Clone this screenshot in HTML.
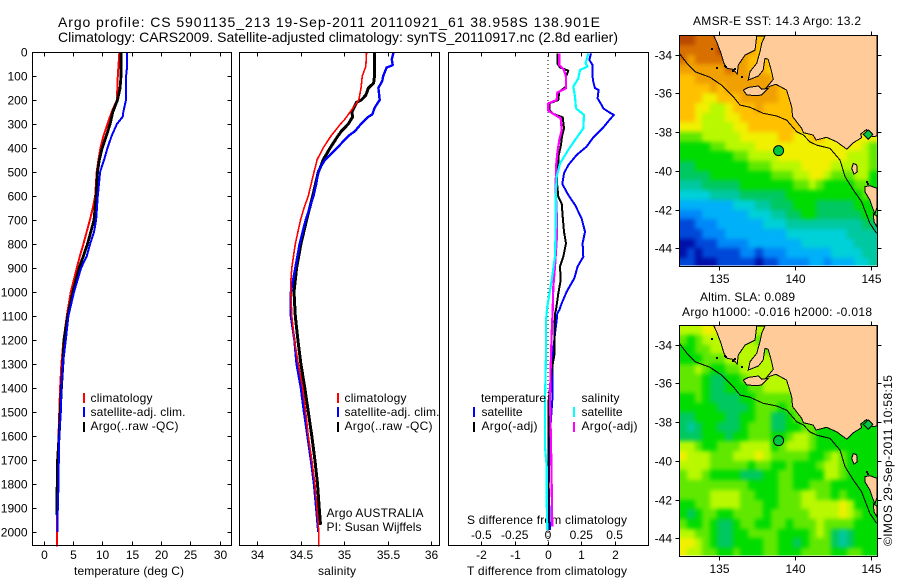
<!DOCTYPE html>
<html lang="en">
<head>
<meta charset="utf-8">
<title>Argo profile</title>
<style>
html,body{margin:0;padding:0;background:#fff;}
svg{display:block;}
text{font-family:"Liberation Sans",sans-serif;font-size:12px;fill:#000;}
</style>
</head>
<body>
<svg id="chart" width="900" height="580" viewBox="0 0 900 580" xmlns="http://www.w3.org/2000/svg">
<text x="58" y="27" style="font-size:14px" textLength="542" lengthAdjust="spacing">Argo profile: CS 5901135_213 19-Sep-2011 20110921_61 38.958S 138.901E</text>
<text x="58" y="42" style="font-size:14px" textLength="560" lengthAdjust="spacing">Climatology: CARS2009. Satellite-adjusted climatology: synTS_20110917.nc (2.8d earlier)</text>

<text x="74" y="575" textLength="110" lengthAdjust="spacing">temperature (deg C)</text>
<text x="318" y="575" textLength="38" lengthAdjust="spacing">salinity</text>
<text x="467" y="524" textLength="160" lengthAdjust="spacing">S difference from climatology</text>
<text x="467" y="575" textLength="160" lengthAdjust="spacing">T difference from climatology</text>

<text x="693" y="25" textLength="168" lengthAdjust="spacing">AMSR-E SST: 14.3 Argo: 13.2</text>
<text x="700" y="301" textLength="95" lengthAdjust="spacing">Altim. SLA: 0.089</text>
<text x="682" y="316" textLength="190" lengthAdjust="spacing">Argo h1000: -0.016 h2000: -0.018</text>
<text transform="translate(892,546) rotate(-90)" textLength="171" lengthAdjust="spacing">©IMOS 29-Sep-2011 10:58:15</text>
<g id="plots"></g>
<g id="overlay">
<text x="90.5" y="402" textLength="62" lengthAdjust="spacing">climatology</text>
<text x="90.5" y="416" textLength="95" lengthAdjust="spacing">satellite-adj. clim.</text>
<text x="90.5" y="430" textLength="88" lengthAdjust="spacing">Argo(..raw -QC)</text>
<rect x="83" y="393" width="2" height="10" fill="#ff0000"/>
<rect x="83" y="407" width="2" height="10" fill="#0000ff"/>
<rect x="83" y="422" width="2" height="10" fill="#000"/>
<text x="344.5" y="402" textLength="62" lengthAdjust="spacing">climatology</text>
<text x="344.5" y="416" textLength="95" lengthAdjust="spacing">satellite-adj. clim.</text>
<text x="344.5" y="430" textLength="88" lengthAdjust="spacing">Argo(..raw -QC)</text>
<rect x="337" y="393" width="2" height="10" fill="#ff0000"/>
<rect x="337" y="407" width="2" height="10" fill="#0000ff"/>
<rect x="337" y="422" width="2" height="10" fill="#000"/>
<text x="326.5" y="517" textLength="97" lengthAdjust="spacing">Argo AUSTRALIA</text>
<text x="326.5" y="531" textLength="95" lengthAdjust="spacing">PI: Susan Wijffels</text>
<text x="481" y="402" textLength="65" lengthAdjust="spacing">temperature</text>
<text x="481.5" y="416" textLength="41" lengthAdjust="spacing">satellite</text>
<text x="481.5" y="430" textLength="56" lengthAdjust="spacing">Argo(-adj)</text>
<text x="581.5" y="402" textLength="38" lengthAdjust="spacing">salinity</text>
<text x="581.5" y="416" textLength="41" lengthAdjust="spacing">satellite</text>
<text x="581.5" y="430" textLength="56" lengthAdjust="spacing">Argo(-adj)</text>
<rect x="473" y="407" width="2" height="10" fill="#0000ff"/>
<rect x="473" y="422" width="2" height="10" fill="#000"/>
<rect x="573" y="407" width="2" height="10" fill="#00ffff"/>
<rect x="573" y="422" width="2" height="10" fill="#ff00ff"/>
</g>
</svg>
<script>
// ---------- tick labels ----------
const depthTicks = [0,100,200,300,400,500,600,700,800,900,1000,1100,1200,1300,1400,1500,1600,1700,1800,1900,2000];
const tempTicks = [0,5,10,15,20,25,30];
const salTicks = [34,34.5,35,35.5,36];
const tDiffTicks = [-2,-1,0,1,2];
const sDiffTicks = [-0.5,-0.25,0,0.25,0.5];
const mapLonTicks = [135,140,145];
const mapLatTicks = [-34,-36,-38,-40,-42,-44];

// ---------- temperature profiles ----------
const tempClimDepth = [0,100,200,250,300,350,400,450,500,600,650,700,800,850,900,1000,1100,1200,1300,1400,1500,1600,1700,1800,1900,2000,2060];
const tempClimValue = [12.93,12.65,12.5,11.6,10.9,10.2,9.7,9.35,9.07,8.8,8.4,7.9,6.8,6.2,5.67,4.65,3.97,3.4,3.05,2.83,2.7,2.55,2.4,2.37,2.3,2.27,2.27];
const tempSatDepth = [0,60,100,200,250,270,300,350,400,450,500,600,700,750,800,850,900,1000,1100,1200,1300,1400,1500,1600,1700,1800,1900,2000];
const tempSatValue = [14.24,14.24,14.07,14.05,13.6,13.5,12.5,11.6,10.9,10.3,9.64,9.25,8.96,8.6,7.94,7.37,6.4,5.2,4.25,3.8,3.3,3.05,2.95,2.7,2.6,2.55,2.43,2.37];
const tempArgoDepth = [0,100,150,200,250,300,350,400,450,500,600,700,800,850,900,1000,1100,1200,1300,1400,1500,1600,1700,1930];
const tempArgoValue = [13.2,13.2,13.05,12.6,11.8,11.35,10.7,10.0,9.5,9.2,8.96,8.6,7.5,6.8,6.07,5.0,4.13,3.5,3.3,3.05,2.85,2.65,2.4,2.25];

// ---------- salinity profiles ----------
const salClimDepth = [0,60,100,150,200,250,280,300,350,400,450,480,500,600,650,700,750,800,850,900,950,1000,1100,1200,1300,1400,1500,1600,1700,1800,1900,2000,2060];
const salClimValue = [35.26,35.25,35.21,35.195,35.17,35.07,35.01,34.96,34.85,34.76,34.69,34.67,34.655,34.59,34.54,34.5,34.47,34.44,34.42,34.4,34.39,34.39,34.4,34.43,34.475,34.525,34.56,34.59,34.63,34.665,34.69,34.71,34.71];
const salSatDepth = [0,30,55,65,100,120,150,200,230,260,270,300,330,350,400,450,480,500,550,600,700,800,900,1000,1100,1200,1300,1400,1500,1600,1700,1800,1900,2000];
const salSatValue = [35.57,35.55,35.56,35.49,35.45,35.44,35.395,35.41,35.355,35.325,35.28,35.195,35.125,35.05,34.92,34.78,34.73,34.705,34.68,34.65,34.56,34.49,34.44,34.39,34.39,34.43,34.455,34.505,34.54,34.58,34.62,34.655,34.68,34.705];
const salArgoDepth = [0,100,130,150,180,200,210,250,270,300,330,350,400,450,480,500,600,700,800,900,1000,1100,1200,1300,1400,1500,1600,1700,1800,1900,1970];
const salArgoValue = [35.35,35.35,35.34,35.28,35.25,35.2,35.145,35.09,35.1,35.05,34.97,34.93,34.84,34.76,34.73,34.705,34.64,34.57,34.505,34.455,34.425,34.44,34.47,34.505,34.55,34.59,34.63,34.665,34.695,34.715,34.73];

// ---------- difference profiles ----------
const tDiffSatDepth = [6,33,54,82,103,124,151,158,193,221,235,253,262,281,314,356,394,429,471,506,550,596,637,693,749,797,853,894,943,999,1047,1075,1089,1117,1172,1242,1311,1450,1631,1811,1992];
const tDiffSatValue = [1.29,1.24,1.34,1.34,1.34,1.36,1.41,1.52,1.49,1.61,1.66,1.86,1.98,1.86,1.66,1.36,1.16,.86,.61,.48,.43,.61,.81,1.01,1.11,1.04,1.06,.89,.79,.56,.41,.34,.28,.26,.21,.16,.13,.13,.04,.02,.06];
const tDiffArgoDepth = [6,47,64,78,103,144,165,200,214,242,258,272,318,353,394,429,464,506,561,603,631,686,749,797,853,894,950,1006,1075,1089,1172,1263,1311,1450,1811,1992];
const tDiffArgoValue = [.28,.28,.36,.61,.54,.54,.34,.31,.04,.04,.16,.44,.48,.42,.38,.32,.31,.26,.28,.31,.41,.44,.48,.54,.46,.36,.38,.31,.24,.21,.19,.19,.13,.02,.02,.02];
const sDiffSatDepth = [6,47,61,75,110,144,186,235,262,318,367,408,464,519,603,728,853,950,1061,1117,1256,1450,1644,1728,1867,1992];
const sDiffSatValue = [.3025,.2825,.2975,.24,.2275,.19,.2025,.21,.27,.265,.2025,.1525,.09,.065,.0575,.0575,.0525,.0275,-.005,-.015,-.015,-.0225,-.0225,-.01,-.01,-.005];
const sDiffArgoDepth = [6,54,75,103,151,169,200,214,244,262,276,325,367,422,478,575,672,783,894,978,1075,1172,1311,1450,1631,1811,1978];
const sDiffArgoValue = [.085,.085,.12,.135,.135,.07,.065,.0025,.0025,.0525,.095,.1025,.085,.07,.06,.0575,.065,.065,.0525,.04,.035,.0275,.02,.015,.0225,.0275,.0325];

// ---------- map fields: colour level per half-degree cell, north to south ----------
const sstRows = [
[14,14,13,13,13,13,13,12,12,12,11,11,11,11,11,11,11,11,11,11,11,11,11,11,11,11],
[13,13,13,13,13,14,13,12,12,12,11,11,11,11,11,11,11,11,11,11,11,11,11,11,11,11],
[13,12,13,13,13,13,13,12,12,11,11,11,11,11,11,11,11,11,11,11,11,11,11,11,11,11],
[12,12,12,12,12,12,13,12,12,11,12,11,10,11,11,11,11,11,11,11,11,11,11,11,11,11],
[11,11,12,12,12,12,12,12,12,12,12,12,11,11,11,11,11,11,11,11,11,11,11,11,11,11],
[11,11,11,11,12,11,12,12,12,12,12,12,12,11,11,11,11,11,11,11,11,11,11,11,11,11],
[11,11,11,10,10,11,11,11,12,12,12,12,12,11,11,11,11,11,11,11,11,11,11,11,11,11],
[11,11,10,10,9,9,10,11,11,11,12,11,11,11,11,11,11,11,11,11,11,11,11,11,11,11],
[11,11,10,9,9,9,10,10,11,11,11,11,11,11,11,11,11,11,11,11,11,11,11,11,11,11],
[10,10,10,9,9,9,9,10,10,11,11,11,11,11,11,11,11,11,11,11,11,11,11,11,11,11],
[8,8,8,9,9,9,9,9,10,10,10,10,10,11,11,10,10,11,11,10,10,10,10,10,10,10],
[7,7,7,7,8,8,9,9,9,9,10,10,10,10,10,10,10,10,10,10,10,10,10,10,9,8],
[7,7,7,7,7,7,7,8,8,9,9,9,9,10,10,10,10,10,10,10,10,10,9,9,9,8],
[6,6,7,7,7,7,7,7,7,8,8,8,9,9,9,9,10,10,10,10,9,9,9,9,9,8],
[6,6,6,6,7,7,7,7,7,7,7,7,8,8,8,9,9,10,10,9,8,8,8,9,9,7],
[5,5,5,6,6,6,6,6,7,7,7,7,7,7,7,8,8,9,8,7,7,7,7,8,8,7],
[4,4,4,4,5,5,5,5,6,6,6,6,6,6,7,7,7,7,7,7,7,7,7,7,8,7],
[3,3,3,3,3,3,3,4,4,4,5,5,6,6,6,7,7,7,6,6,6,6,6,7,7,7],
[2,2,2,3,3,3,3,3,3,4,4,4,5,5,6,6,7,7,6,6,6,6,6,6,7,7],
[1,1,2,2,2,3,3,3,3,3,3,4,4,4,5,5,5,5,5,5,5,5,5,5,6,6],
[1,1,1,2,2,2,3,3,3,3,3,3,3,3,4,4,4,4,4,4,4,4,5,5,5,5],
[0,0,1,1,1,2,2,2,2,3,3,3,3,3,3,3,4,4,4,4,4,4,4,5,5,5],
[0,1,0,1,1,1,1,1,2,2,1,2,2,2,3,3,3,3,3,3,4,4,4,4,5,5],
[1,1,0,0,0,1,1,1,1,1,0,1,1,2,2,2,2,3,3,2,3,3,3,4,4,5]
];
const slaRows = [
[9,9,9,10,10,9,9,9,9,9,9,9,9,9,9,9,9,9,9,9,9,9,9,9,9,9],
[8,7,8,9,9,9,9,9,9,9,8,8,8,8,8,8,8,8,8,8,8,8,8,8,8,8],
[7,7,8,8,9,9,9,9,9,9,9,8,8,8,8,8,8,8,8,8,8,8,8,8,8,8],
[7,7,7,8,8,8,9,9,9,9,9,9,9,8,8,8,8,8,8,8,8,8,8,8,8,8],
[8,8,9,8,7,7,8,8,9,9,9,9,9,8,8,8,8,8,8,8,8,8,8,8,8,8],
[8,8,8,7,6,6,7,7,8,9,9,9,9,9,9,9,8,8,8,8,8,8,8,8,8,8],
[8,8,8,7,6,6,7,7,7,8,8,9,9,9,9,9,8,8,8,8,8,8,8,8,8,8],
[7,7,8,7,6,6,6,6,7,7,8,8,8,8,8,8,8,8,8,8,8,8,8,8,8,8],
[7,7,7,7,7,6,6,6,6,7,8,8,8,7,8,8,8,8,8,8,8,8,8,8,8,8],
[6,6,7,7,7,7,6,6,7,7,8,8,6,6,7,8,8,8,7,7,7,7,7,7,7,7],
[6,5,6,7,7,6,6,6,7,8,8,8,6,6,7,7,8,8,7,7,7,7,7,7,7,7],
[6,6,6,7,7,7,6,7,7,8,8,8,7,7,8,9,9,8,7,7,7,7,7,7,7,7],
[9,9,8,7,7,8,8,8,9,9,9,9,7,8,9,9,9,8,7,7,7,7,7,7,7,7],
[10,9,9,9,8,8,8,9,9,9,10,9,8,8,8,8,8,7,7,8,9,8,7,7,7,7],
[9,9,9,9,8,8,8,8,8,7,8,8,7,7,8,7,7,7,8,9,9,8,7,7,7,7],
[8,9,9,8,7,7,7,7,6,6,6,7,7,8,8,7,7,7,7,9,9,8,7,7,7,7],
[8,8,8,8,8,8,8,8,8,7,7,7,7,8,8,7,7,8,8,8,7,7,7,7,7,7],
[8,8,8,8,9,9,9,9,8,8,7,7,7,8,8,8,9,9,8,8,7,8,7,7,7,7],
[7,7,8,8,9,9,9,9,8,8,8,7,7,8,8,8,9,9,9,9,9,10,9,7,7,7],
[7,6,7,8,8,7,7,8,8,8,8,7,8,8,8,8,8,9,9,9,9,10,9,8,7,7],
[8,7,7,8,7,6,6,7,8,8,7,7,8,8,7,8,8,8,9,8,8,8,8,7,7,7],
[9,9,8,8,7,6,6,7,7,8,8,8,8,7,7,7,7,8,9,8,6,5,6,7,7,7],
[10,10,9,8,7,6,6,7,7,7,7,8,8,7,7,6,7,8,8,8,6,5,6,7,7,7],
[10,9,9,8,8,7,7,8,7,7,7,8,8,7,7,7,8,8,8,8,7,7,8,8,7,7]
];
const levelColors = ['#0010a8','#0048d8','#0088f8','#00b0f8','#00d0d8','#00c8a0','#00c860','#00dc00','#60e800','#b8f800','#f0f000','#ffc000','#f0a000','#d87000','#b84800'];
const cellLonStart = 132.37, cellLatStart = -33, cellStep = 0.5;

// ---------- geography in lon/lat ----------
const coastLon = [134.61,134.82,135.11,135.31,135.53,135.92,136.18,136.25,136.69,137.35,137.46,138.00,137.79,137.68,137.46,137.02,136.91,137.57,137.89,138.00,138.22,138.44,138.55,138.11,138.73,139.43,139.76,139.82,140.42,140.53,141.18,141.36,142.06,142.72,143.38,143.82,144.36,144.30,144.69,145.09,145.39,145.39];
const coastLat = [-32.98,-33.33,-33.93,-34.45,-34.71,-34.76,-35.00,-34.53,-34.02,-33.76,-33.04,-33.04,-33.41,-33.84,-34.45,-34.88,-35.31,-35.10,-34.79,-34.19,-34.24,-34.88,-35.27,-35.69,-35.53,-35.83,-36.69,-37.20,-37.81,-38.03,-38.15,-38.41,-38.27,-38.50,-38.88,-38.55,-38.29,-38.10,-37.86,-38.24,-38.20,-32.98];
const kangarooLon = [136.58,136.91,137.57,137.79,138.22,137.79,137.46,136.80];
const kangarooLat = [-35.83,-35.69,-35.62,-35.79,-35.74,-36.08,-36.12,-36.08];
const kingLon = [143.82,144.04,144.08,143.86,143.71];
const kingLat = [-39.62,-39.70,-40.05,-40.17,-39.87];
const tasLon = [144.58,144.91,145.39,145.39,145.24,145.09,144.91,144.58];
const tasLat = [-40.82,-40.77,-40.91,-41.86,-42.20,-41.94,-41.51,-41.08];
const tasSouthLon = [145.13,145.39,145.39,145.18];
const tasSouthLat = [-42.20,-42.37,-42.92,-42.63];
const bayLon = [144.47,144.80,145.09,144.80];
const bayLat = [-38.12,-37.89,-38.12,-38.38];
const shelfLon = [132.37,132.96,133.40,134.39,135.15,135.92,136.36,137.02,137.89,138.77,139.43,140.09,140.53,140.96,141.40,142.28,142.94,143.27,143.82,144.36,144.91,145.35];
const shelfLat = [-33.93,-34.53,-34.88,-35.17,-35.57,-36.17,-36.60,-36.72,-37.03,-37.17,-37.38,-37.98,-38.15,-38.50,-38.67,-38.84,-39.44,-40.30,-40.99,-41.60,-42.72,-43.23];
const speckLon = [134.50,134.82,135.37,135.45,135.92,136.00,136.47,144.69,144.80];
const speckLat = [-33.72,-34.71,-34.59,-34.66,-34.83,-34.72,-35.17,-40.56,-40.66];
const argoLon = [138.901];
const argoLat = [-38.958];

// ---------- scales ----------
const NS = 'http://www.w3.org/2000/svg';
const root = document.getElementById('plots');
const yDepth = d => 52 + d * 0.24;
const xTemp = t => 43.5 + t * 5.87;
const xSal = s => 257 + (s - 34) * 87;
const xTDiff = t => 548 + t * 33.3;
const xSDiff = s => 548 + s * 133.2;
const xLon = lon => 719.3 + (lon - 135) * 15.2;
const yLat = (lat, off) => 54.7 + off + (-34 - lat) * 19.35;

function make(tag, attrs, parent) {
  const e = document.createElementNS(NS, tag);
  for (const k in attrs) e.setAttribute(k, attrs[k]);
  (parent || root).appendChild(e);
  return e;
}
function label(txt, x, y, anchor, name, parent) {
  const e = make('text', {x: x, y: y, 'text-anchor': anchor}, parent);
  e.textContent = txt;
  
  
  return e;
}
function tick(x1, y1, x2, y2, name, parent) {
  const e = make('line', {x1: x1, y1: y1, x2: x2, y2: y2, stroke: '#000', 'stroke-width': 1, 'shape-rendering': 'crispEdges'}, parent);
  
  
}
function frame(x, y, w, h, name, parent) {
  const e = make('rect', {x: x, y: y, width: w, height: h, fill: 'none', stroke: '#000', 'stroke-width': 1, 'shape-rendering': 'crispEdges'}, parent);
  
  
}
function profile(xf, depths, values, color, width, name) {
  const pts = depths.map((d, i) => xf(values[i]).toFixed(1) + ',' + yDepth(d).toFixed(1)).join(' ');
  const e = make('polyline', {points: pts, fill: 'none', stroke: color, 'stroke-width': width, 'stroke-linejoin': 'round', 'shape-rendering': 'crispEdges'});
  
  
}

// ---------- temperature panel ----------
profile(xTemp, tempClimDepth, tempClimValue, '#ff0000', 2, 'temperature-climatology-line');
profile(xTemp, tempArgoDepth, tempArgoValue, '#000', 2.8, 'temperature-argo-line');
profile(xTemp, tempSatDepth, tempSatValue, '#0000ff', 2, 'temperature-satellite-line');
frame(32.5, 52.5, 199, 493, 'temperature-panel-frame');
depthTicks.forEach(d => {
  const y = Math.round(yDepth(d)) + 0.5;
  tick(32.5, y, 36.5, y, 'depth-tick-left');
  tick(227.5, y, 231.5, y, 'depth-tick-right');
  label(d, 27.5, y + 4, 'end', 'depth-tick-label');
});
tempTicks.forEach(t => {
  const x = Math.round(xTemp(t)) + 0.5;
  tick(x, 52.5, x, 56.5, 'temperature-tick-top');
  tick(x, 541.5, x, 545.5, 'temperature-tick-bottom');
  label(t, x, 559, 'middle', 'temperature-tick-label');
});

// ---------- salinity panel ----------
profile(xSal, salArgoDepth, salArgoValue, '#000', 3, 'salinity-argo-line');
profile(xSal, salSatDepth, salSatValue, '#0000ff', 2.4, 'salinity-satellite-line');
profile(xSal, salClimDepth, salClimValue, '#ff0000', 1.6, 'salinity-climatology-line');
frame(239.5, 52.5, 200, 493, 'salinity-panel-frame');
salTicks.forEach(s => {
  const x = Math.round(xSal(s)) + 0.5;
  tick(x, 52.5, x, 56.5, 'salinity-tick-top');
  tick(x, 541.5, x, 545.5, 'salinity-tick-bottom');
  label(s, x, 559, 'middle', 'salinity-tick-label');
});

// ---------- difference panel ----------
const zeroLine = make('line', {x1: xTDiff(0), y1: 52, x2: xTDiff(0), y2: 545, stroke: '#000', 'stroke-width': 1, 'stroke-dasharray': '1 3', 'shape-rendering': 'crispEdges'});


profile(xTDiff, tDiffSatDepth, tDiffSatValue, '#0000ff', 2, 't-difference-satellite-line');
profile(xTDiff, tDiffArgoDepth, tDiffArgoValue, '#000', 2, 't-difference-argo-line');
profile(xSDiff, sDiffArgoDepth, sDiffArgoValue, '#ff00ff', 2.2, 's-difference-argo-line');
profile(xSDiff, sDiffSatDepth, sDiffSatValue, '#00ffff', 2.2, 's-difference-satellite-line');
frame(448.5, 52.5, 200, 493, 'difference-panel-frame');
tDiffTicks.forEach(t => {
  const x = Math.round(xTDiff(t)) + 0.5;
  tick(x, 52.5, x, 56.5, 't-difference-tick-top');
  tick(x, 541.5, x, 545.5, 't-difference-tick-bottom');
  label(t, x, 559, 'middle', 't-difference-tick-label');
});
sDiffTicks.forEach(s => {
  label(s, xSDiff(s), 539, 'middle', 's-difference-tick-label');
});

// ---------- maps ----------
function polygon(lons, lats, off, fill, name, parent) {
  const pts = lons.map((lon, i) => xLon(lon).toFixed(1) + ',' + yLat(lats[i], off).toFixed(1)).join(' ');
  const e = make('polygon', {points: pts, fill: fill, stroke: '#000', 'stroke-width': 1, 'shape-rendering': 'crispEdges'}, parent);
  
  
}
function drawMap(rows, off, mapName, clipId) {
  const g = make('g', {});
  
  
  const defs = make('defs', {}, g);
  const clip = make('clipPath', {id: clipId}, defs);
  make('rect', {x: 679.5, y: 35 + off, width: 197.5, height: 230.5}, clip);
  const blur = make('filter', {id: clipId + '-soft', filterUnits: 'userSpaceOnUse', x: 640, y: off, width: 280, height: 310, 'color-interpolation-filters': 'sRGB'}, defs);
  make('feGaussianBlur', {stdDeviation: 2.2}, blur);
  const clipped = make('g', {'clip-path': 'url(#' + clipId + ')'}, g);
  
  
  const cells = make('g', {filter: 'url(#' + clipId + '-soft)'}, clipped);
  
  
  rows.forEach((row, r) => {
    row.forEach((lv, c) => {
      const lon = cellLonStart + c * cellStep;
      const lat = cellLatStart - r * cellStep;
      let x0 = Math.round(xLon(lon));
      let x1 = Math.round(xLon(lon + cellStep));
      let y0 = Math.round(yLat(lat, off));
      let y1 = Math.round(yLat(lat - cellStep, off));
      if (c === 0) x0 -= 12;
      if (c === row.length - 1) x1 += 12;
      if (r === 0) y0 -= 12;
      if (r === rows.length - 1) y1 += 12;
      const cell = make('rect', {x: x0, y: y0, width: x1 - x0, height: y1 - y0, fill: levelColors[lv], 'shape-rendering': 'crispEdges'}, cells);
      
      
    });
  });
  const land = make('g', {'clip-path': 'url(#' + clipId + '-land)'}, g);
  
  
  const clip2 = make('clipPath', {id: clipId + '-land'}, defs);
  make('rect', {x: 679.5, y: 35 + off, width: 198, height: 232}, clip2);
  polygon(coastLon, coastLat, off, '#ffcc99', 'mainland', land);
  polygon(kangarooLon, kangarooLat, off, '#ffcc99', 'kangaroo-island', land);
  polygon(kingLon, kingLat, off, '#ffcc99', 'king-island', land);
  polygon(tasLon, tasLat, off, '#ffcc99', 'tasmania-north', land);
  polygon(tasSouthLon, tasSouthLat, off, '#ffcc99', 'tasmania-south', land);
  polygon(bayLon, bayLat, off, '#00c840', 'port-phillip-bay', land);
  const shelf = make('polyline', {
    points: shelfLon.map((lon, i) => xLon(lon).toFixed(1) + ',' + yLat(shelfLat[i], off).toFixed(1)).join(' '),
    fill: 'none', stroke: '#000', 'stroke-width': 1, 'shape-rendering': 'crispEdges'}, land);
  
  
  speckLon.forEach((lon, i) => {
    const sp = make('rect', {x: Math.round(xLon(lon)) - 1, y: Math.round(yLat(speckLat[i], off)) - 1, width: 2, height: 2, fill: '#000'}, land);
    
    
  });
  argoLon.forEach((lon, i) => {
    const dot = make('circle', {cx: xLon(lon), cy: yLat(argoLat[i], off), r: 5, fill: '#00c83c', stroke: '#000', 'stroke-width': 1}, g);
    
    
  });
  frame(679.5, 35.5 + off, 198, 231, mapName + '-frame', g);
  mapLonTicks.forEach(lon => {
    const x = Math.round(xLon(lon)) + 0.5;
    tick(x, 31.5 + off, x, 35.5 + off, 'map-longitude-tick-top', g);
    tick(x, 266.5 + off, x, 270.5 + off, 'map-longitude-tick-bottom', g);
    label(lon, x, 283 + off, 'middle', 'map-longitude-label', g);
  });
  mapLatTicks.forEach(lat => {
    const y = Math.round(yLat(lat, off)) + 0.5;
    tick(675.5, y, 679.5, y, 'map-latitude-tick-left', g);
    tick(877.5, y, 881.5, y, 'map-latitude-tick-right', g);
    label(lat, 672, y + 4, 'end', 'map-latitude-label', g);
  });
}
drawMap(sstRows, 0, 'sst-map', 'clip-sst');
drawMap(slaRows, 290, 'sla-map', 'clip-sla');
</script>
</body>
</html>
